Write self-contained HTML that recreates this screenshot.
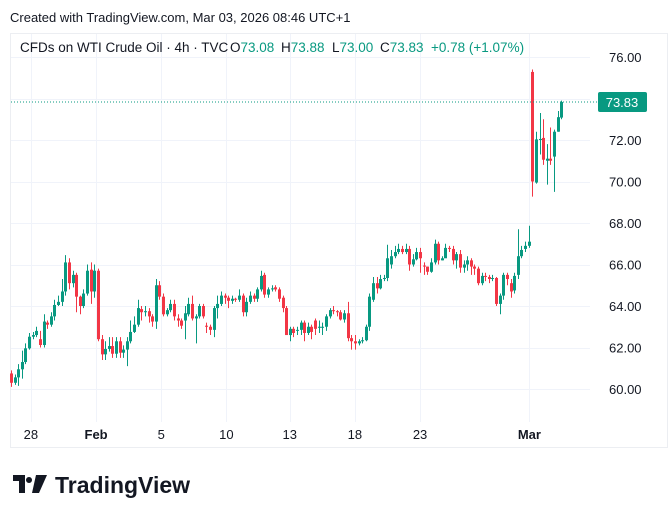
<!DOCTYPE html>
<html><head><meta charset="utf-8"><style>
body{margin:0;background:#fff;font-family:"Liberation Sans",sans-serif}
svg{display:block}
</style></head><body>
<svg id="c" width="668" height="518" viewBox="0 0 668 518">
<text x="10" y="22" font-size="13" fill="#131722">Created with TradingView.com, Mar 03, 2026 08:46 UTC+1</text>
<rect x="10.5" y="33.5" width="657" height="414" fill="none" stroke="#eceef2"/>
<g id="grid"></g>
<g id="candles"></g>
<g id="axes"></g>
<g font-size="13.5">
<text x="20" y="52" fill="#131722">CFDs on WTI Crude Oil · 4h · TVC</text>
<text x="230" y="52" fill="#131722">O<tspan fill="#089981">73.08</tspan></text>
<text x="281" y="52" fill="#131722">H<tspan fill="#089981">73.88</tspan></text>
<text x="332" y="52" fill="#131722">L<tspan fill="#089981">73.00</tspan></text>
<text x="380" y="52" fill="#131722">C<tspan fill="#089981">73.83</tspan></text>
<text x="431" y="52" fill="#089981">+0.78 (+1.07%)</text>
</g>
<g>
<path d="M13 475h12v18h-6v-12h-6z M29 477a3 3 0 1 0 0.01 0z M36 475h11l-8 18h-7z" fill="#131722"/>
<text x="55" y="493" font-size="23" font-weight="bold" fill="#131722">TradingView</text>
</g>
</svg>
<script>
const opens=[
60.75,60.3,60.56,60.95,61.3,61.96,62.52,62.6,62.4,62.12,
63.2,63.1,63.5,64.05,64.2,64.7,66.1,65.1,65.5,64.45,
64.0,64.6,65.75,64.7,65.7,62.4,61.67,61.93,62.07,61.7,
62.3,61.75,61.9,62.3,62.75,63.1,63.85,63.7,63.75,63.5,
63.25,65.0,64.45,63.6,63.8,64.1,63.4,63.3,63.3,63.6,
64.1,63.4,63.5,64.0,63.05,63.0,62.85,63.9,64.1,64.5,
64.4,64.25,64.35,64.3,64.5,63.7,64.2,64.5,64.35,64.8,
65.5,64.55,64.8,64.9,64.8,64.4,63.9,62.6,62.9,62.82,
62.85,63.2,62.7,63.0,63.3,62.95,62.95,63.0,63.5,63.8,
63.75,63.7,63.35,63.65,62.45,62.3,62.2,62.3,62.35,63.0,
64.3,65.1,64.85,65.3,65.35,66.0,66.4,66.6,66.75,66.6,
66.75,66.0,66.25,66.6,65.95,65.9,65.65,66.1,67.0,66.2,
66.3,66.8,66.75,66.2,66.5,65.85,66.0,66.2,65.9,65.8,
65.1,65.45,65.4,65.3,65.35,64.1,64.5,65.5,65.1,64.75,
65.5,66.4,66.75,66.9,75.28,69.95,72.0,72.1,71.0,71.1,
71.2,72.4,73.08];
const closes=[
60.3,60.56,60.95,61.3,61.96,62.52,62.6,62.8,62.12,63.25,
63.1,63.5,64.05,64.2,64.7,66.1,65.1,65.5,64.45,64.0,
64.6,65.7,64.7,65.7,62.4,61.67,61.93,62.07,61.7,62.3,
61.75,61.9,62.3,62.75,63.1,63.9,63.7,63.75,63.5,63.25,
65.0,64.45,63.6,63.8,64.1,63.5,63.3,63.05,63.65,64.1,
63.4,63.5,64.0,63.5,63.0,62.85,63.9,64.1,64.5,64.4,
64.25,64.35,64.3,64.5,63.7,64.2,64.5,64.35,64.8,65.45,
64.55,64.8,64.85,64.8,64.35,63.9,62.6,62.9,62.7,62.85,
63.2,62.7,63.0,62.75,62.9,63.0,63.0,63.5,63.8,63.75,
63.7,63.35,63.65,62.45,62.3,62.2,62.3,62.35,63.0,64.45,
65.1,64.85,65.3,65.35,66.3,66.4,66.6,66.75,66.6,66.75,
66.0,66.25,66.6,66.3,65.9,65.65,66.1,67.0,66.2,66.3,
66.8,66.75,66.2,66.5,65.85,66.0,66.2,65.9,65.8,65.1,
65.45,65.4,65.3,65.35,64.1,64.5,65.5,65.3,64.7,65.45,
66.4,66.7,66.9,67.1,70.0,72.03,72.05,71.05,71.1,71.0,
72.4,73.1,73.83];
const highs=[
60.9,60.7,61.2,61.85,62.2,62.7,62.75,63.0,62.8,63.6,
63.3,63.7,64.3,64.5,65.3,66.45,66.3,65.7,65.6,64.5,
64.8,66.0,66.1,66.0,65.8,62.6,62.3,62.5,62.5,62.5,
62.5,62.1,62.5,63.3,63.5,64.3,64.0,64.0,63.9,63.6,
65.3,65.2,64.6,63.9,64.3,64.3,63.6,63.4,64.0,64.4,
64.5,63.6,64.1,64.1,63.2,63.1,64.0,64.5,64.7,64.6,
64.5,64.5,64.4,64.8,64.6,64.4,64.7,64.6,64.9,65.7,
65.6,64.9,65.0,65.0,64.9,64.5,64.0,63.0,63.0,63.0,
63.3,63.3,63.2,63.1,63.4,63.3,63.2,63.6,63.9,64.0,
63.8,63.8,63.8,64.2,62.6,62.6,62.4,62.5,63.1,64.6,
65.4,65.4,65.5,65.5,66.95,66.7,66.9,67.0,66.9,67.0,
66.9,66.5,66.8,66.8,66.1,65.9,66.3,67.2,67.1,66.4,
67.0,66.9,66.9,66.6,66.7,66.2,66.4,66.3,66.0,65.9,
65.6,65.6,65.5,65.5,65.4,64.6,65.6,65.6,65.3,65.6,
67.7,66.9,67.1,67.87,75.4,72.4,73.3,73.0,71.8,72.6,
72.5,73.4,73.9];
const lows=[
60.1,60.2,60.15,60.5,61.2,61.9,62.4,62.5,62.0,62.0,
62.9,63.0,63.3,64.0,64.0,64.5,64.8,64.9,63.7,63.6,
63.9,64.5,64.1,64.4,62.3,61.4,61.4,61.8,61.5,61.5,
61.5,61.5,61.1,62.2,62.7,63.0,63.3,63.5,63.2,63.0,
62.9,64.3,63.5,63.5,63.7,63.3,63.0,62.9,62.4,63.5,
63.3,62.2,63.4,63.4,62.7,62.6,62.5,63.4,64.0,64.1,
63.9,64.1,64.2,64.2,63.5,63.5,64.1,64.2,64.2,64.7,
64.4,64.4,64.7,64.7,64.2,63.7,62.6,62.3,62.5,62.6,
62.6,62.3,62.6,62.4,62.6,62.7,62.6,62.8,63.4,63.6,
63.5,63.3,63.2,62.3,61.9,61.9,62.1,62.2,62.3,62.8,
64.2,64.6,64.8,65.2,65.2,65.8,66.3,66.5,66.5,66.5,
65.7,65.9,66.2,65.6,65.5,65.5,65.6,66.0,66.0,66.2,
66.6,66.6,66.0,65.8,65.6,65.6,65.7,65.5,65.5,65.0,
65.0,65.2,65.1,65.2,64.0,63.6,64.3,65.0,64.4,64.6,
65.3,66.3,66.6,66.8,69.27,69.9,71.3,70.8,69.85,70.8,
69.5,72.4,73.0];
const priceTicks=[60,62,64,66,68,70,72,74,76];
const timeLabels=["28","Feb","5","10","13","18","23","Mar"];
const timeLabelIdx=[5.5,23.5,41.5,59.5,77,95,113,143.2];
const boldLabels=["Feb","Mar"];
const lastPrice=73.83;

const NS="http://www.w3.org/2000/svg";
const y=p=>389-(p-60)*20.75;
const x=i=>11+i*3.62;
const grid=document.getElementById('grid'),cg=document.getElementById('candles'),ax=document.getElementById('axes');
function mk(tag,attrs,parent){const e=document.createElementNS(NS,tag);for(const k in attrs)e.setAttribute(k,attrs[k]);parent.appendChild(e);return e;}
priceTicks.forEach(p=>{
  const l=mk('line',{x1:11,x2:590,y1:Math.round(y(p))+0.5,y2:Math.round(y(p))+0.5,stroke:'#f0f3fa'},grid);
  
  
  if(p===74)return;
  const t=mk('text',{x:609,y:y(p)+5,'font-size':13,fill:'#131722'},ax);
  t.textContent=p.toFixed(2);
  
  
});
timeLabels.forEach((s,k)=>{
  const xx=x(timeLabelIdx[k]);
  const l=mk('line',{x1:Math.round(xx)+0.5,x2:Math.round(xx)+0.5,y1:34,y2:422,stroke:'#f0f3fa'},grid);
  
  
  const t=mk('text',{x:xx,y:439,'font-size':13,fill:'#131722','text-anchor':'middle','font-weight':boldLabels.includes(s)?'bold':'normal'},ax);
  t.textContent=s;
  
  
});
closes.forEach((c,i)=>{
  const o=opens[i],col=c>=o?'#089981':'#f23645',cx=Math.round(x(i));
  const g=mk('g',{},cg);
  
  
  mk('line',{x1:cx+0.5,x2:cx+0.5,y1:y(highs[i]),y2:y(lows[i]),stroke:col,'stroke-width':1},g);
  const top=y(Math.max(o,c)),h=Math.max(1,y(Math.min(o,c))-top);
  mk('rect',{x:cx-1,y:top,width:3,height:h,fill:col},g);
});
const ly=y(lastPrice);
const pl=mk('line',{x1:11,x2:598,y1:ly,y2:ly,stroke:'#089981','stroke-dasharray':'1 2'},ax);


const pr=mk('rect',{x:598,y:ly-10,width:49,height:20,rx:2,fill:'#089981'},ax);


const pt=mk('text',{x:622,y:ly+5,'font-size':13,fill:'#fff','text-anchor':'middle'},ax);
pt.textContent=lastPrice.toFixed(2);


</script>
</body></html>
